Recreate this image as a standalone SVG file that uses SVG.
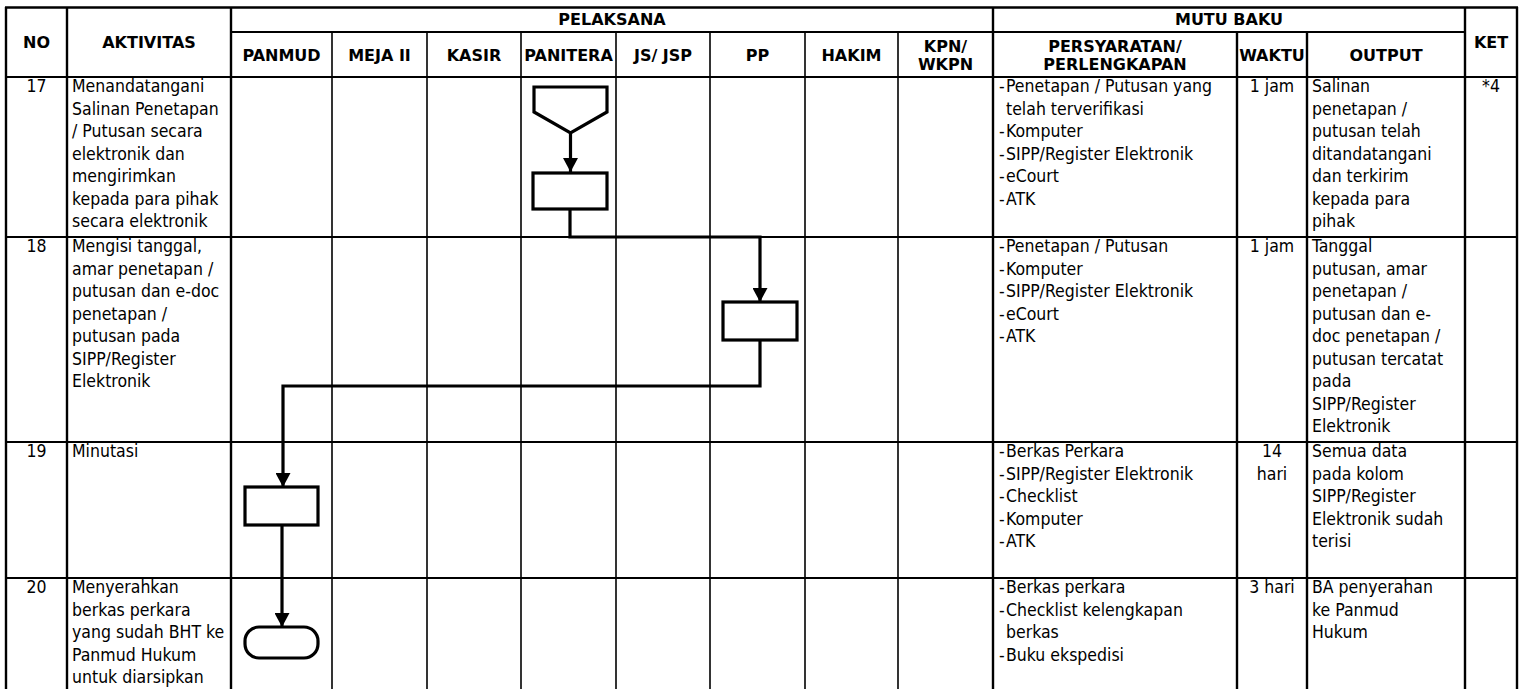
<svg xmlns="http://www.w3.org/2000/svg" width="1529" height="689" viewBox="0 0 1529 689">
  <style>
    .t { font-family: "DejaVu Sans Condensed", "DejaVu Sans", Verdana, sans-serif; font-size: 17.5px; fill: #000; }
    .h { font-family: "DejaVu Sans", Verdana, sans-serif; font-size: 16px; font-weight: bold; fill: #000; }
    .c { text-anchor: middle; }
    .g { stroke: #000; fill: none; }
    .gw { stroke-width: 2.4; }
    .gl { stroke-width: 1.6; }
    .gh { stroke-width: 2; }
    .shape { fill: #fff; stroke: #000; stroke-width: 3.2; }
    .conn { fill: none; stroke: #000; stroke-width: 3.2; }
  </style>
  <defs>
    <marker id="arrow" viewBox="0 0 14 15" refX="14" refY="7.5" markerWidth="14" markerHeight="15" markerUnits="userSpaceOnUse" orient="auto">
      <path d="M0,0 L14,7.5 L0,15 Z" fill="#000"/>
    </marker>
  </defs>

  <rect width="1529" height="689" fill="#fff"/>

  <!-- table grid -->
  <g id="grid" class="g">
    <line x1="5" y1="7.5" x2="1518" y2="7.5" style="stroke-width:2.6"/>
    <line class="gh" x1="231" y1="32" x2="1465" y2="32"/>
    <line class="gh" x1="5" y1="77" x2="1518" y2="77"/>
    <line class="gh" x1="5" y1="237" x2="1518" y2="237"/>
    <line class="gh" x1="5" y1="442" x2="1518" y2="442"/>
    <line class="gh" x1="5" y1="578" x2="1518" y2="578"/>
    <!-- main columns -->
    <line class="gw" x1="6" y1="7" x2="6" y2="689"/>
    <line class="gw" x1="67" y1="7" x2="67" y2="689"/>
    <line class="gw" x1="231" y1="7" x2="231" y2="689"/>
    <line class="gw" x1="993" y1="7" x2="993" y2="689"/>
    <line class="gw" x1="1465" y1="7" x2="1465" y2="689"/>
    <line class="gw" x1="1517" y1="7" x2="1517" y2="689"/>
    <line class="gw" x1="1237" y1="32" x2="1237" y2="689"/>
    <line class="gw" x1="1307" y1="32" x2="1307" y2="689"/>
    <!-- executor lanes -->
    <line class="gl" x1="332" y1="32" x2="332" y2="689"/>
    <line class="gl" x1="427" y1="32" x2="427" y2="689"/>
    <line class="gl" x1="521" y1="32" x2="521" y2="689"/>
    <line class="gl" x1="616" y1="32" x2="616" y2="689"/>
    <line class="gl" x1="710" y1="32" x2="710" y2="689"/>
    <line class="gl" x1="805" y1="32" x2="805" y2="689"/>
    <line class="gl" x1="898" y1="32" x2="898" y2="689"/>
  </g>

  <!-- header -->
  <g id="header">
    <text class="h c" x="36.5" y="48">NO</text>
    <text class="h c" x="149" y="48">AKTIVITAS</text>
    <text class="h c" x="612" y="25">PELAKSANA</text>
    <text class="h c" x="1229" y="25">MUTU BAKU</text>
    <text class="h c" x="1491" y="48">KET</text>
    <text class="h c" x="281.5" y="61">PANMUD</text>
    <text class="h c" x="379.5" y="61">MEJA II</text>
    <text class="h c" x="474" y="61">KASIR</text>
    <text class="h c" x="568.5" y="61">PANITERA</text>
    <text class="h c" x="663" y="61">JS/ JSP</text>
    <text class="h c" x="757.5" y="61">PP</text>
    <text class="h c" x="851.5" y="61">HAKIM</text>
    <text class="h c" x="945.5" y="52">KPN/</text>
    <text class="h c" x="945.5" y="70">WKPN</text>
    <text class="h c" x="1115" y="52">PERSYARATAN/</text>
    <text class="h c" x="1115" y="70">PERLENGKAPAN</text>
    <text class="h c" x="1272" y="61">WAKTU</text>
    <text class="h c" x="1386" y="61">OUTPUT</text>
  </g>

  <!-- row 17 -->
  <g id="row17" class="t">
    <text class="c" x="36.5" y="92">17</text>
    <text x="72" y="92">Menandatangani</text>
    <text x="72" y="114.5">Salinan Penetapan</text>
    <text x="72" y="137">/ Putusan secara</text>
    <text x="72" y="159.5">elektronik dan</text>
    <text x="72" y="182">mengirimkan</text>
    <text x="72" y="204.5">kepada para pihak</text>
    <text x="72" y="227">secara elektronik</text>
    <text x="999" y="92">-</text><text x="1006" y="92">Penetapan / Putusan yang</text>
    <text x="1006" y="114.5">telah terverifikasi</text>
    <text x="999" y="137">-</text><text x="1006" y="137">Komputer</text>
    <text x="999" y="159.5">-</text><text x="1006" y="159.5">SIPP/Register Elektronik</text>
    <text x="999" y="182">-</text><text x="1006" y="182">eCourt</text>
    <text x="999" y="204.5">-</text><text x="1006" y="204.5">ATK</text>
    <text class="c" x="1272" y="92">1 jam</text>
    <text x="1312" y="92">Salinan</text>
    <text x="1312" y="114.5">penetapan /</text>
    <text x="1312" y="137">putusan telah</text>
    <text x="1312" y="159.5">ditandatangani</text>
    <text x="1312" y="182">dan terkirim</text>
    <text x="1312" y="204.5">kepada para</text>
    <text x="1312" y="227">pihak</text>
    <text class="c" x="1491" y="92">*4</text>
  </g>

  <!-- row 18 -->
  <g id="row18" class="t">
    <text class="c" x="36.5" y="252">18</text>
    <text x="72" y="252">Mengisi tanggal,</text>
    <text x="72" y="274.5">amar penetapan /</text>
    <text x="72" y="297">putusan dan e-doc</text>
    <text x="72" y="319.5">penetapan /</text>
    <text x="72" y="342">putusan pada</text>
    <text x="72" y="364.5">SIPP/Register</text>
    <text x="72" y="387">Elektronik</text>
    <text x="999" y="252">-</text><text x="1006" y="252">Penetapan / Putusan</text>
    <text x="999" y="274.5">-</text><text x="1006" y="274.5">Komputer</text>
    <text x="999" y="297">-</text><text x="1006" y="297">SIPP/Register Elektronik</text>
    <text x="999" y="319.5">-</text><text x="1006" y="319.5">eCourt</text>
    <text x="999" y="342">-</text><text x="1006" y="342">ATK</text>
    <text class="c" x="1272" y="252">1 jam</text>
    <text x="1312" y="252">Tanggal</text>
    <text x="1312" y="274.5">putusan, amar</text>
    <text x="1312" y="297">penetapan /</text>
    <text x="1312" y="319.5">putusan dan e-</text>
    <text x="1312" y="342">doc penetapan /</text>
    <text x="1312" y="364.5">putusan tercatat</text>
    <text x="1312" y="387">pada</text>
    <text x="1312" y="409.5">SIPP/Register</text>
    <text x="1312" y="432">Elektronik</text>
  </g>

  <!-- row 19 -->
  <g id="row19" class="t">
    <text class="c" x="36.5" y="457">19</text>
    <text x="72" y="457">Minutasi</text>
    <text x="999" y="457">-</text><text x="1006" y="457">Berkas Perkara</text>
    <text x="999" y="479.5">-</text><text x="1006" y="479.5">SIPP/Register Elektronik</text>
    <text x="999" y="502">-</text><text x="1006" y="502">Checklist</text>
    <text x="999" y="524.5">-</text><text x="1006" y="524.5">Komputer</text>
    <text x="999" y="547">-</text><text x="1006" y="547">ATK</text>
    <text class="c" x="1272" y="457">14</text>
    <text class="c" x="1272" y="479.5">hari</text>
    <text x="1312" y="457">Semua data</text>
    <text x="1312" y="479.5">pada kolom</text>
    <text x="1312" y="502">SIPP/Register</text>
    <text x="1312" y="524.5">Elektronik sudah</text>
    <text x="1312" y="547">terisi</text>
  </g>

  <!-- row 20 -->
  <g id="row20" class="t">
    <text class="c" x="36.5" y="593">20</text>
    <text x="72" y="593">Menyerahkan</text>
    <text x="72" y="615.5">berkas perkara</text>
    <text x="72" y="638">yang sudah BHT ke</text>
    <text x="72" y="660.5">Panmud Hukum</text>
    <text x="72" y="683">untuk diarsipkan</text>
    <text x="999" y="593">-</text><text x="1006" y="593">Berkas perkara</text>
    <text x="999" y="615.5">-</text><text x="1006" y="615.5">Checklist kelengkapan</text>
    <text x="1006" y="638">berkas</text>
    <text x="999" y="660.5">-</text><text x="1006" y="660.5">Buku ekspedisi</text>
    <text class="c" x="1272" y="593">3 hari</text>
    <text x="1312" y="593">BA penyerahan</text>
    <text x="1312" y="615.5">ke Panmud</text>
    <text x="1312" y="638">Hukum</text>
  </g>

  <!-- connectors -->
  <g id="connectors">
    <path class="conn" d="M570.5,133 V172" marker-end="url(#arrow)"/>
    <path class="conn" d="M570,209 V237 H760 V302" marker-end="url(#arrow)"/>
    <path class="conn" d="M760,340 V386 H283 V487" marker-end="url(#arrow)"/>
    <path class="conn" d="M282,525 V627" marker-end="url(#arrow)"/>
  </g>

  <!-- flow nodes -->
  <g id="node-offpage">
    <path class="shape" d="M534,87 H607 V112 L570.5,133 L534,112 Z"/>
  </g>
  <g id="node-panitera">
    <rect class="shape" x="533" y="173" width="74" height="36"/>
  </g>
  <g id="node-pp">
    <rect class="shape" x="723" y="302" width="74" height="38"/>
  </g>
  <g id="node-panmud">
    <rect class="shape" x="245" y="487" width="73" height="38"/>
  </g>
  <g id="node-end">
    <rect class="shape" x="245" y="627" width="73" height="31" rx="14" ry="14"/>
  </g>
</svg>
